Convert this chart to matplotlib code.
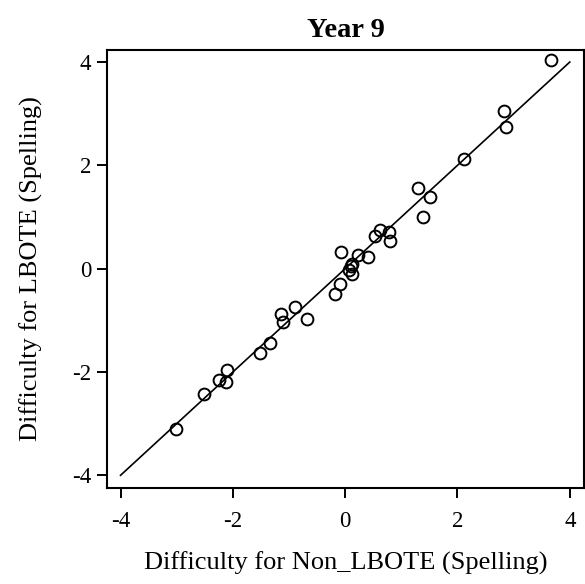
import matplotlib
matplotlib.use("Agg")
import matplotlib.pyplot as plt
import numpy as np

plt.rcParams['font.family'] = ['Liberation Serif', 'DejaVu Serif']

# item difficulties (logits)
non_lbote = [3.66, 2.82, 2.86, 2.11, 1.29, 1.51, 1.39, 0.53, 0.62, 0.78,
             0.80, -0.08, 0.22, 0.40, 0.12, 0.11, 0.07, 0.12, -0.09, -0.18,
             -0.89, -1.14, -1.11, -0.68, -1.33, -1.52, -2.10, -2.24, -2.12,
             -2.51, -3.01]
lbote = [4.04, 3.05, 2.74, 2.12, 1.57, 1.39, 1.00, 0.64, 0.74, 0.71,
         0.53, 0.33, 0.27, 0.22, 0.10, 0.06, -0.03, -0.11, -0.30, -0.49,
         -0.74, -0.87, -1.03, -0.97, -1.43, -1.63, -1.96, -2.15, -2.19,
         -2.43, -3.11]
identity = [-4, 4]
ticks = [-4, -2, 0, 2, 4]

fig = plt.figure(figsize=(5.85, 5.84), dpi=100)
ax = fig.add_axes([0.183, 0.164, 0.815, 0.751])

ax.plot(identity, identity, color='black', lw=1.2)
ax.plot(non_lbote, lbote, 'o', mfc='none', mec='black', ms=8.5, mew=1.4)

ax.set_xlim(-4.24, 4.25)
ax.set_ylim(-4.25, 4.24)
ax.set_xticks(ticks)
ax.set_yticks(ticks)
ax.set_xticklabels([str(t) for t in ticks])
ax.set_yticklabels([str(t) for t in ticks])
ax.tick_params(direction='out', length=7.5, width=1.4, labelsize=16.5)
ax.tick_params(axis='x', pad=9)
ax.tick_params(axis='y', pad=4)
for s in ax.spines.values():
    s.set_linewidth(1.5)

ax.set_title('Year 9', fontsize=20.5, fontweight='bold', pad=9)
ax.set_xlabel('Difficulty for Non_LBOTE (Spelling)', fontsize=19, labelpad=14)
ax.set_ylabel('Difficulty for LBOTE (Spelling)', fontsize=19)
ax.yaxis.set_label_coords(-0.134, 0.5)

fig.savefig('out.png', dpi=100)
